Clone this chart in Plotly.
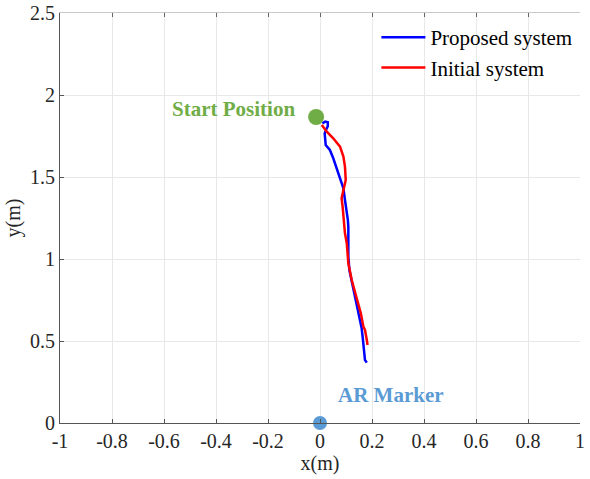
import plotly.graph_objects as go

# Trajectory of the proposed system (metres)
prop_x = [0.009, 0.020, 0.030, 0.030, 0.024, 0.018, 0.022, 0.030, 0.038, 0.051, 0.064, 0.077,
          0.090, 0.096, 0.103, 0.107, 0.109, 0.109, 0.109, 0.113, 0.120, 0.128, 0.141, 0.154,
          0.160, 0.164, 0.170, 0.173, 0.180]
prop_y = [1.827, 1.838, 1.834, 1.810, 1.790, 1.766, 1.695, 1.680, 1.665, 1.614, 1.553, 1.492,
          1.431, 1.360, 1.299, 1.240, 1.197, 1.116, 1.014, 0.933, 0.880, 0.831, 0.730, 0.628,
          0.580, 0.526, 0.450, 0.384, 0.368]

# Trajectory of the initial system (metres)
init_x = [0.007, 0.026, 0.051, 0.077, 0.090, 0.096, 0.099, 0.090, 0.083, 0.087, 0.092, 0.096,
          0.103, 0.109, 0.122, 0.141, 0.157, 0.167, 0.173, 0.180, 0.183]
init_y = [1.817, 1.776, 1.736, 1.685, 1.624, 1.563, 1.482, 1.421, 1.370, 1.319, 1.238, 1.157,
          1.096, 0.974, 0.872, 0.770, 0.669, 0.587, 0.567, 0.506, 0.476]

start_pos = (-0.015, 1.866)
marker_pos = (0.0, 0.0)

x_ticks = [-1, -0.8, -0.6, -0.4, -0.2, 0, 0.2, 0.4, 0.6, 0.8, 1]
x_labels = ["-1", "-0.8", "-0.6", "-0.4", "-0.2", "0", "0.2", "0.4", "0.6", "0.8", "1"]
y_ticks = [0, 0.5, 1, 1.5, 2, 2.5]
y_labels = ["0", "0.5", "1", "1.5", "2", "2.5"]

FONT = "Liberation Serif"
GREEN = "#70AD47"
LBLUE = "#5B9BD5"
TICKFONT = dict(family="Times New Roman, Liberation Serif, serif", size=20, color="#262626")

fig = go.Figure()
fig.add_trace(go.Scatter(x=prop_x, y=prop_y, mode="lines", name="Proposed system",
                         line=dict(color="#0000FF", width=2.5)))
fig.add_trace(go.Scatter(x=init_x, y=init_y, mode="lines", name="Initial system",
                         line=dict(color="#FF0000", width=2.5)))
fig.add_trace(go.Scatter(x=[start_pos[0]], y=[start_pos[1]], mode="markers", showlegend=False,
                         marker=dict(color=GREEN, size=16)))
fig.add_trace(go.Scatter(x=[marker_pos[0]], y=[marker_pos[1]], mode="markers", showlegend=False,
                         marker=dict(color=LBLUE, size=14), cliponaxis=False))
# top frame edge with ticks
fig.add_trace(go.Scatter(x=[None], y=[None], xaxis="x2", showlegend=False, hoverinfo="skip"))

fig.add_annotation(x=-0.088, y=1.915, text="<b>Start Position</b>", showarrow=False,
                   xanchor="right", yanchor="middle", font=dict(family=FONT, size=21, color=GREEN))
fig.add_annotation(x=0.273, y=0.171, text="<b>AR Marker</b>", showarrow=False,
                   xanchor="center", yanchor="middle", font=dict(family=FONT, size=21, color=LBLUE))

fig.update_layout(
    width=590, height=479,
    margin=dict(l=60, r=10, t=13, b=56),
    plot_bgcolor="white", paper_bgcolor="white",
    font=dict(family=FONT, size=20, color="#262626"),
    showlegend=True,
    legend=dict(x=0.995, y=0.99, xanchor="right", yanchor="top", bgcolor="rgba(0,0,0,0)",
                font=dict(family=FONT, size=21, color="#000000"), tracegroupgap=0,
                itemwidth=44),
    xaxis=dict(range=[-1, 1], tickmode="array", tickvals=x_ticks, ticktext=x_labels,
               showgrid=True, gridcolor="#e8e8e8", zeroline=False, showline=True,
               linecolor="#555555", linewidth=1, ticks="inside", ticklen=4, tickcolor="#555555",
               tickfont=TICKFONT, automargin=False,
               title=dict(text="x(m)", font=dict(family=FONT, size=20), standoff=0)),
    xaxis2=dict(range=[-1, 1], overlaying="x", side="top", tickvals=x_ticks, showticklabels=False,
                showgrid=False, zeroline=False, showline=True, linecolor="#c8c8c8", linewidth=1,
                ticks="inside", ticklen=4, tickcolor="#666666", automargin=False),
    yaxis=dict(range=[0, 2.5], tickmode="array", tickvals=y_ticks, ticktext=y_labels,
               showgrid=True, gridcolor="#e8e8e8", zeroline=False, showline=True,
               linecolor="#555555", linewidth=1, ticks="inside", ticklen=4, tickcolor="#555555",
               tickfont=TICKFONT, automargin=False,
               title=dict(text="y(m)", font=dict(family=FONT, size=20), standoff=4)),
)

fig.write_html("out.html")
